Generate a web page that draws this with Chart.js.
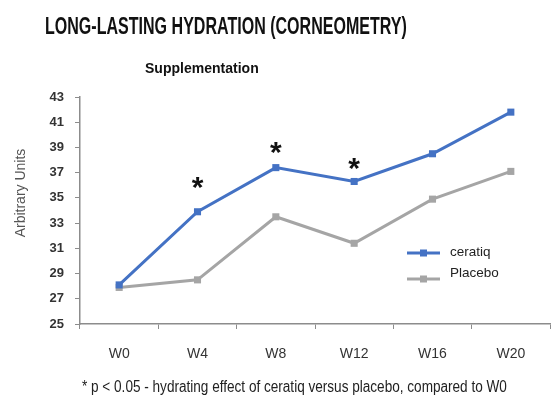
<!DOCTYPE html>
<html>
<head>
<meta charset="utf-8">
<script src="https://cdn.jsdelivr.net/npm/chart.js@4.4.0/dist/chart.umd.min.js"></script>
<style>
  html, body { margin: 0; padding: 0; background: #fff; }
  #wrap { position: relative; width: 558px; height: 414px; overflow: hidden; }
  #chart { position: absolute; left: 0; top: 0; }
  .txt { position: absolute; white-space: nowrap; line-height: 1; transform-origin: 0 0; color: #111; }
  #title { left: 45px; top: 13px; font: bold 23px "Liberation Sans Narrow", "Liberation Sans", sans-serif; }
  #subtitle { left: 145px; top: 59px; font: bold 15px "Liberation Sans Narrow", "Liberation Sans", sans-serif; }
  #note { left: 82px; top: 378px; font: 16px "Liberation Sans Narrow", "Liberation Sans", sans-serif; color: #222; }
</style>
</head>
<body>
<div id="wrap">
  <canvas id="chart" width="558" height="414"></canvas>
  <div class="txt" id="title">LONG-LASTING HYDRATION (CORNEOMETRY)</div>
  <div class="txt" id="subtitle">Supplementation</div>
  <div class="txt" id="note">* p &lt; 0.05 - hydrating effect of ceratiq versus placebo, compared to W0</div>
</div>
<script>
// chart data
const weeks = ['W0', 'W4', 'W8', 'W12', 'W16', 'W20'];
const ceratiq = [28.1, 33.9, 37.4, 36.3, 38.5, 41.8];
const placebo = [27.9, 28.5, 33.5, 31.4, 34.9, 37.1];
// where the significance stars sit (axis units), null = no star
const starValues = [null, 36.4, 39.2, 37.9, null, null];
const yTicks = [25, 27, 29, 31, 33, 35, 37, 39, 41, 43];

const blue = '#4472C4';
const grey = '#A5A5A5';
const axisColor = '#8c8c8c';

// squeeze the html texts to the widths seen in the reference
function fitWidth(id, w) {
  const el = document.getElementById(id);
  el.style.transform = 'scaleX(' + (w / el.offsetWidth) + ')';
}
fitWidth('title', 362);
fitWidth('subtitle', 114);
fitWidth('note', 425);

const overlay = {
  id: 'overlay',
  afterDatasetsDraw(chart) {
    const ctx = chart.ctx;
    const x = chart.scales.x, y = chart.scales.y;
    ctx.save();

    // stars above ceratiq points
    ctx.fillStyle = '#111';
    ctx.font = 'bold 30px "Liberation Sans", sans-serif';
    ctx.textAlign = 'center';
    ctx.textBaseline = 'alphabetic';
    starValues.forEach((v, i) => {
      if (v == null) return;
      ctx.fillText('*', x.getPixelForValue(i), y.getPixelForValue(v) + 0.57 * 30);
    });

    // y axis title
    ctx.save();
    ctx.translate(21.5, 193);
    ctx.rotate(-Math.PI / 2);
    ctx.font = '14px "Liberation Sans", sans-serif';
    ctx.fillStyle = '#555';
    ctx.textAlign = 'center';
    ctx.textBaseline = 'middle';
    ctx.fillText('Arbitrary Units', 0, 0);
    ctx.restore();

    // legend inside the plot
    const rows = [[253, 252], [279, 273]];
    chart.data.datasets.forEach((ds, i) => {
      const [ly, ty] = rows[i];
      ctx.strokeStyle = ds.borderColor;
      ctx.lineWidth = 3;
      ctx.beginPath();
      ctx.moveTo(407, ly);
      ctx.lineTo(440, ly);
      ctx.stroke();
      ctx.fillStyle = ds.borderColor;
      ctx.fillRect(420, ly - 3.5, 7, 7);
      ctx.fillStyle = '#222';
      ctx.font = '13.5px "Liberation Sans", sans-serif';
      ctx.textAlign = 'left';
      ctx.textBaseline = 'middle';
      ctx.fillText(ds.label, 450, ty);
    });
    ctx.restore();
  }
};

new Chart(document.getElementById('chart'), {
  type: 'line',
  data: {
    labels: weeks,
    datasets: [
      {
        label: 'ceratiq',
        data: ceratiq,
        borderColor: blue,
        backgroundColor: blue,
        borderWidth: 3,
        pointStyle: 'rect',
        pointRadius: 5,
        pointBorderWidth: 0,
        tension: 0
      },
      {
        label: 'Placebo',
        data: placebo,
        borderColor: grey,
        backgroundColor: grey,
        borderWidth: 3,
        pointStyle: 'rect',
        pointRadius: 5,
        pointBorderWidth: 0,
        tension: 0
      }
    ]
  },
  options: {
    responsive: false,
    animation: false,
    layout: { padding: { top: 97, right: 8, bottom: 50, left: 0 } },
    plugins: {
      legend: { display: false },
      tooltip: { enabled: false }
    },
    scales: {
      x: {
        offset: true,
        grid: { offset: true, drawOnChartArea: false, drawTicks: true, tickLength: 5, color: axisColor },
        border: { color: axisColor, width: 1.5 },
        ticks: { color: '#333', padding: 17, font: { family: 'Liberation Sans', size: 14 } },
        afterFit: s => { s.height = 40; }
      },
      y: {
        min: 25,
        max: 43,
        afterBuildTicks: s => { s.ticks = yTicks.map(v => ({ value: v })); },
        grid: { drawOnChartArea: false, drawTicks: true, tickLength: 5, color: axisColor },
        border: { color: axisColor, width: 1.5 },
        ticks: { color: '#333', padding: 11, font: { family: 'Liberation Sans', size: 13, weight: 'bold' } },
        afterFit: s => { s.width = 80; }
      }
    }
  },
  plugins: [overlay]
});
</script>
</body>
</html>
